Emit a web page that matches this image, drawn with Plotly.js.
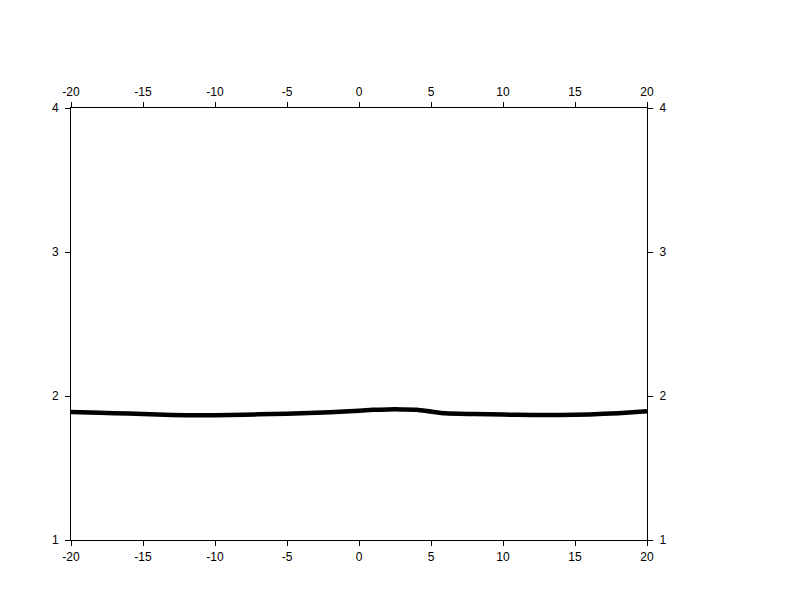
<!DOCTYPE html>
<html>
<head>
<meta charset="utf-8">
<script src="https://cdn.plot.ly/plotly-3.0.1.min.js"></script>
<style>html,body{margin:0;padding:0;background:#fff;}#chart{width:792px;height:612px;}</style>
</head>
<body>
<div id="chart"></div>
<script>
const xValues = [-20, -18, -16, -14, -12, -10, -8, -6, -4, -2, 0, 1, 2, 3, 4, 5, 6, 8, 10, 12, 14, 16, 18, 20];
const yValues = [1.889, 1.883, 1.878, 1.872, 1.866, 1.866, 1.870, 1.875, 1.880, 1.888, 1.898, 1.904, 1.907, 1.907, 1.905, 1.892, 1.880, 1.875, 1.871, 1.868, 1.868, 1.872, 1.881, 1.894];
const xTickVals = [-20, -15, -10, -5, 0, 5, 10, 15, 20];
const xTickText = ["-20", "-15", "-10", "-5", "0", "5", "10", "15", "20"];
const yTickVals = [1, 2, 3, 4];
const yTickText = ["1", "2", "3", "4"];

const font = {family: "Liberation Sans, Arial, sans-serif", size: 12, color: "#000"};
const axisCommon = {
  showgrid: false, zeroline: false, showline: true, linecolor: "#000", linewidth: 1,
  ticks: "outside", ticklen: 5, tickwidth: 1, tickcolor: "#000", tickfont: font
};

const traces = [
  {x: xValues, y: yValues, type: "scatter", mode: "lines", line: {color: "#000", width: 4.5, shape: "spline", smoothing: 0.6}, showlegend: false, hoverinfo: "skip"},
  {x: [xTickVals[0], xTickVals[xTickVals.length-1]], y: [yTickVals[0], yTickVals[yTickVals.length-1]], xaxis: "x2", yaxis: "y2", type: "scatter", mode: "markers", marker: {opacity: 0}, showlegend: false, hoverinfo: "skip"}
];

const layout = {
  width: 792, height: 612,
  margin: {l: 71, r: 145, t: 108, b: 72, pad: 0},
  paper_bgcolor: "#fff", plot_bgcolor: "#fff",
  showlegend: false,
  font: font,
  xaxis: Object.assign({}, axisCommon, {range: [-20, 20], tickvals: xTickVals, ticktext: xTickText, side: "bottom", ticklabelstandoff: 1}),
  yaxis: Object.assign({}, axisCommon, {range: [1, 4], tickvals: yTickVals, ticktext: yTickText, side: "left", ticklabelstandoff: 4}),
  xaxis2: Object.assign({}, axisCommon, {range: [-20, 20], tickvals: xTickVals, ticktext: xTickText, side: "top", overlaying: "x", ticklabelstandoff: 1}),
  yaxis2: Object.assign({}, axisCommon, {range: [1, 4], tickvals: yTickVals, ticktext: yTickText, side: "right", overlaying: "y", ticklabelstandoff: 4})
};

Plotly.newPlot("chart", traces, layout, {staticPlot: true, displayModeBar: false});
</script>
</body>
</html>
